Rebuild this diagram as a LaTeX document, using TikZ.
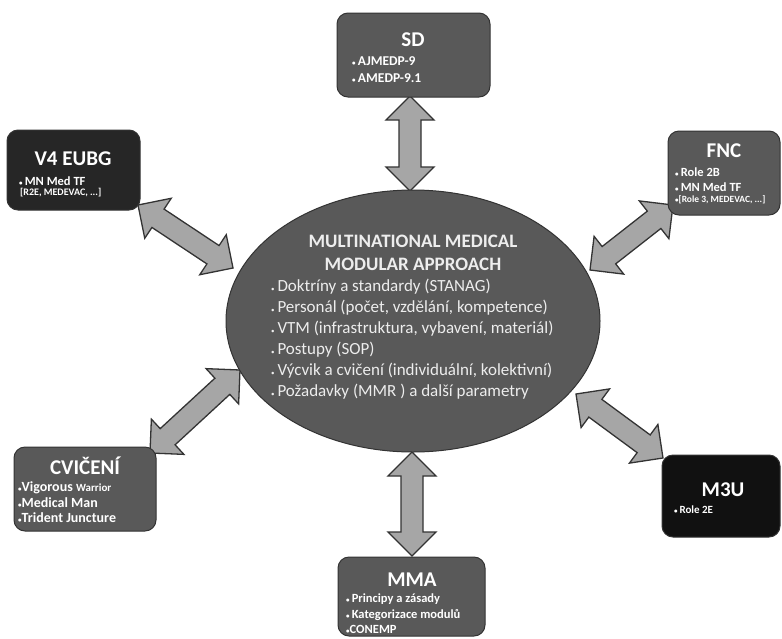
\documentclass[tikz,border=0pt]{standalone}
\usepackage{fontspec}
\setmainfont{Carlito}
\usetikzlibrary{calc,shapes.geometric}
\definecolor{midgray}{HTML}{595959}
\definecolor{darkbox}{HTML}{262626}
\definecolor{blackbox}{HTML}{111111}
\definecolor{edgegray}{HTML}{333333}
\definecolor{arrowgray}{HTML}{A6A6A6}
\definecolor{ovaltext}{HTML}{EDEDED}

% small list bullet
\newcommand\dotmark{{\fontsize{7}{7}\selectfont•}}

% double-headed block arrow between two named points
\newcommand\blockarrow[2]{%
  \coordinate (ha) at ($(#1)!24pt!(#2)$);
  \coordinate (hb) at ($(#2)!24pt!(#1)$);
  \draw[dblarrow] (#1) -- ($(ha)!24pt!90:(#2)$) -- ($(ha)!11pt!90:(#2)$)
    -- ($(hb)!11pt!90:(#2)$) -- ($(hb)!24pt!90:(#2)$) -- (#2)
    -- ($(hb)!24pt!-90:(#2)$) -- ($(hb)!11pt!-90:(#2)$)
    -- ($(ha)!11pt!-90:(#2)$) -- ($(ha)!24pt!-90:(#2)$) -- cycle;}

\begin{document}
\begin{tikzpicture}[x=1pt,y=-1pt,
  dblarrow/.style={draw=edgegray, fill=arrowgray, line width=1.3pt, line join=miter},
  infobox/.style={draw=edgegray, line width=1pt, rounded corners=11pt, inner sep=0pt},
  boxtitle/.style={text=white, font=\fontsize{21}{23}\selectfont\bfseries, inner sep=0pt},
  boxitem/.style={text=white, font=\fontsize{#1}{#1}\selectfont\bfseries, anchor=west, inner sep=0pt},
  boxitem/.default=12.5,
  boxnote/.style={text=white, font=\fontsize{#1}{#1}\selectfont\bfseries, anchor=west, inner sep=0pt},
  boxnote/.default=10,
  ovaltitle/.style={text=ovaltext, font=\fontsize{19}{21}\selectfont\bfseries, inner sep=0pt},
  ovalitem/.style={text=ovaltext, font=\fontsize{17}{19}\selectfont, anchor=west, inner sep=0pt}]
\useasboundingbox (0,0) rectangle (782,638);

% arrow end points
\coordinate (sdA) at (410,96);   \coordinate (sdB) at (410,191);
\coordinate (v4A) at (138,205);  \coordinate (v4B) at (233,268);
\coordinate (fnA) at (590,270);  \coordinate (fnB) at (673,205);
\coordinate (cvA) at (150,453);  \coordinate (cvB) at (240,370);
\coordinate (m3A) at (576,394);  \coordinate (m3B) at (663,458);
\coordinate (mmA) at (412,452);  \coordinate (mmB) at (412,556);

\blockarrow{sdA}{sdB}
\blockarrow{v4A}{v4B}
\blockarrow{fnA}{fnB}
\blockarrow{cvA}{cvB}
\blockarrow{m3A}{m3B}
\blockarrow{mmA}{mmB}

% central oval
\node[ellipse, draw=edgegray, line width=1pt, fill=midgray,
      minimum width=374pt, minimum height=262pt] (core) at (413,321) {};
\node[ovaltitle] (t1) at (413,241) {MULTINATIONAL MEDICAL};
\node[ovaltitle] (t2) at (413,264) {MODULAR APPROACH};
\node[ovalitem] (o1) at (271,287) {\dotmark\,Doktríny a standardy (STANAG)};
\node[ovalitem] (o2) at (271,308) {\dotmark\,Personál (počet, vzdělání, kompetence)};
\node[ovalitem] (o3) at (271,329) {\dotmark\,VTM (infrastruktura, vybavení, materiál)};
\node[ovalitem] (o4) at (271,350) {\dotmark\,Postupy (SOP)};
\node[ovalitem] (o5) at (271,371) {\dotmark\,Výcvik a cvičení (individuální, kolektivní)};
\node[ovalitem] (o6) at (271,392) {\dotmark\,Požadavky (MMR ) a další parametry};

% SD
\node[infobox, fill=midgray, minimum width=153pt, minimum height=84pt] (sd) at (413.5,55) {};
\node[boxtitle] at (413,40) {SD};
\node[boxitem=13.5] at (352,61) {\dotmark\,AJMEDP-9};
\node[boxitem=13.5] at (352,78) {\dotmark\,AMEDP-9.1};

% V4 EUBG
\node[infobox, fill=darkbox, minimum width=133pt, minimum height=80pt] (v4) at (73.5,170) {};
\node[boxtitle] at (73,159) {V4 EUBG};
\node[boxitem] at (19,181) {\dotmark\,MN Med TF};
\node[boxnote] at (20,193) {[R2E, MEDEVAC, ...]};

% FNC
\node[infobox, fill=midgray, minimum width=112pt, minimum height=84pt] (fnc) at (724,173) {};
\node[boxtitle] at (724,151) {FNC};
\node[boxitem] at (675,172) {\dotmark\,Role 2B};
\node[boxitem] at (675,187) {\dotmark\,MN Med TF};
\node[boxnote=9.5] at (675,200) {\dotmark[Role 3, MEDEVAC, ...]};

% CVIČENÍ
\node[infobox, fill=midgray, minimum width=142pt, minimum height=84pt] (cv) at (85,489) {};
\node[boxtitle] at (85,466) {CVIČENÍ};
\node[boxitem=14] at (18,488) {\dotmark Vigorous {\fontsize{11}{12}\selectfont Warrior}};
\node[boxitem=14] at (18,503) {\dotmark Medical Man};
\node[boxitem=14] at (18,518) {\dotmark Trident Juncture};

% M3U
\node[infobox, fill=blackbox, minimum width=118pt, minimum height=82pt] (m3u) at (721,496) {};
\node[boxtitle] at (723,490) {M3U};
\node[boxitem=11] at (674,510) {\dotmark\,Role 2E};

% MMA
\node[infobox, fill=midgray, minimum width=147pt, minimum height=79pt] (mma) at (411.5,596.5) {};
\node[boxtitle] at (412,580) {MMA};
\node[boxitem] at (346,599) {\dotmark\,Principy a zásady};
\node[boxitem] at (346,615) {\dotmark\,Kategorizace modulů};
\node[boxitem] at (346,629) {\dotmark CONEMP};
\end{tikzpicture}
\end{document}
